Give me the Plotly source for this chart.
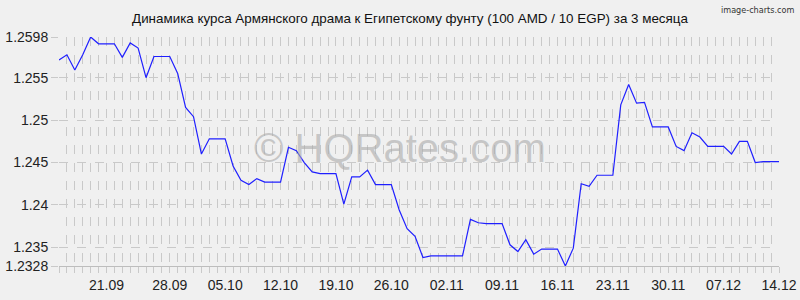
import plotly.graph_objects as go

# Data: 92 consecutive quotes (index-based x axis)
rates = [
    1.2571, 1.2577, 1.2559, 1.2577, 1.2598, 1.2590, 1.2590, 1.2590, 1.2574, 1.2591,
    1.2585, 1.2550, 1.2575, 1.2575, 1.2575, 1.2555, 1.2515, 1.2504, 1.2460, 1.2478,
    1.2478, 1.2478, 1.2446, 1.2429, 1.2424, 1.2431, 1.2427, 1.2427, 1.2427, 1.2468,
    1.2464, 1.2450, 1.2439, 1.2437, 1.2437, 1.2437, 1.2401, 1.2433, 1.2433, 1.2441,
    1.2424, 1.2424, 1.2424, 1.2394, 1.2372, 1.2363, 1.2338, 1.2340, 1.2340, 1.2340,
    1.2340, 1.2340, 1.2383, 1.2379, 1.2378, 1.2378, 1.2378, 1.2353, 1.2345, 1.2359,
    1.2342, 1.2348, 1.2348, 1.2348, 1.2328, 1.2349, 1.2425, 1.2422, 1.2435, 1.2435,
    1.2435, 1.2518, 1.2542, 1.2520, 1.2521, 1.2492, 1.2492, 1.2492, 1.2469, 1.2464,
    1.2485, 1.2480, 1.2469, 1.2469, 1.2469, 1.2460, 1.2475, 1.2475, 1.2450, 1.2451,
    1.2451, 1.2451,
]
x_idx = list(range(len(rates)))

x_tick_pos = [6, 14, 21, 28, 35, 42, 49, 56, 63, 70, 77, 84, 91]
x_tick_labels = ["21.09", "28.09", "05.10", "12.10", "19.10", "26.10", "02.11",
                 "09.11", "16.11", "23.11", "30.11", "07.12", "14.12"]
y_tick_vals = [1.2328, 1.235, 1.24, 1.245, 1.25, 1.255, 1.2598]
y_tick_labels = ["1.2328", "1.235", "1.24", "1.245", "1.25", "1.255", "1.2598"]

title_text = "Динамика курса Армянского драма к Египетскому фунту (100 AMD / 10 EGP) за 3 месяца"

FONT = "Liberation Sans, Arial, sans-serif"
GRID = "#c9c9c9"
BG = "#f0f0f0"

fig = go.Figure()
fig.add_trace(go.Scatter(
    x=x_idx, y=rates, mode="lines",
    line=dict(color="#1f1fff", width=1.2),
    hoverinfo="skip", showlegend=False,
))

fig.update_layout(
    width=800, height=300,
    margin=dict(l=59, r=21, t=37, b=34, autoexpand=False),
    paper_bgcolor=BG, plot_bgcolor=BG,
    font=dict(family=FONT, size=14, color="#222222"),
    title=dict(text=title_text, x=410 / 800, xanchor="center",
               y=1 - 18 / 300, yanchor="middle",
               font=dict(family=FONT, size=13.4, color="#111111")),
    xaxis=dict(
        range=[0, len(rates) - 1], automargin=False,
        tickmode="array", tickvals=x_tick_pos, ticktext=x_tick_labels,
        showgrid=True, gridcolor=GRID, griddash="dash", gridwidth=1,
        ticks="outside", ticklen=6, tickcolor=GRID,
        showline=True, linecolor="#bdbdbd", linewidth=1,
        zeroline=False,
        tickfont=dict(size=14, color="#222222"),
        minor=dict(tickmode="linear", tick0=0, dtick=1, showgrid=True,
                   gridcolor=GRID, griddash="dash", gridwidth=1,
                   ticks="outside", ticklen=6, tickcolor=GRID),
    ),
    yaxis=dict(
        range=[1.2328, 1.2598], automargin=False,
        tickmode="array", tickvals=y_tick_vals, ticktext=y_tick_labels,
        showgrid=True, gridcolor=GRID, griddash="dash", gridwidth=1,
        ticks="outside", ticklen=7, tickcolor=GRID,
        showline=False, zeroline=False,
        tickfont=dict(size=14, color="#222222"),
    ),
    annotations=[
        dict(text="© HQRates.com", xref="paper", yref="paper",
             x=(400 - 59) / 720, y=(266 - 148) / 229,
             xanchor="center", yanchor="middle", showarrow=False,
             font=dict(family=FONT, size=40, color="rgba(170,170,170,0.6)")),
        dict(text="image-charts.com", xref="paper", yref="paper",
             x=(796 - 59) / 720, y=(266 - 10) / 229,
             xanchor="right", yanchor="middle", showarrow=False,
             font=dict(family="DejaVu Sans Condensed, DejaVu Sans, sans-serif",
                       size=9, color="#333333")),
    ],
)

fig.write_html("out.html")
